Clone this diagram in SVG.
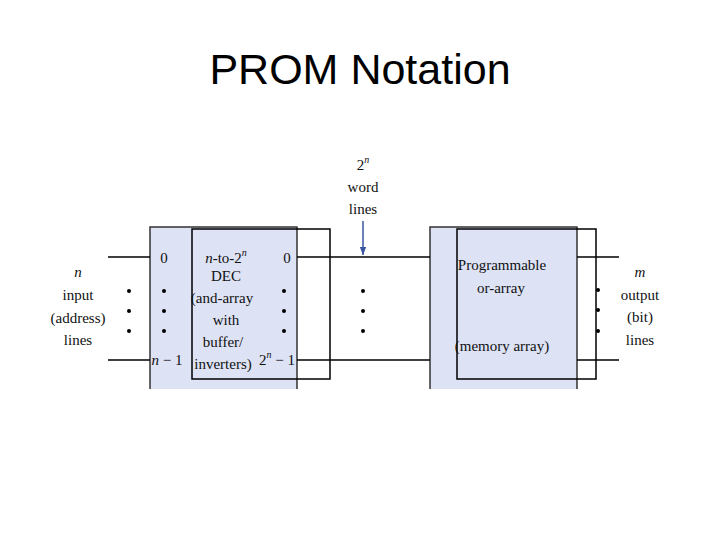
<svg xmlns="http://www.w3.org/2000/svg" width="720" height="540" viewBox="0 0 720 540">
<style>
.t{font-family:"Liberation Serif",serif;font-size:15px;fill:#111;text-anchor:middle}
.i{font-style:italic}
.title{font-family:"Liberation Sans",Arial,sans-serif;font-size:43px;fill:#000;text-anchor:middle}
.box{fill:#dde2f5;stroke:none}
.edge{stroke:#333;stroke-width:1.5;fill:none}
.in{stroke:#000;stroke-width:1.5;fill:none}
.ln{stroke:#000;stroke-width:1.5}
.d{fill:#000}
</style>
<defs>
<marker id="ah" markerWidth="8" markerHeight="10" refX="10" refY="4" orient="auto" markerUnits="userSpaceOnUse" viewBox="0 0 10 8">
<path d="M0,0 L10,4 L0,8 Z" fill="#3a55a0"/>
</marker>
</defs>
<rect width="720" height="540" fill="#fff"/>
<text class="title" x="360" y="84">PROM Notation</text>

<g id="decoder">
<rect class="box" x="150" y="227" width="147" height="162"/>
<path class="edge" d="M150,389 V227 H297 V389"/>
<rect class="in" x="192" y="229" width="138" height="150"/>
<text class="t" x="164" y="263">0</text>
<text class="t" x="167" y="365"><tspan class="i">n</tspan> − 1</text>
<text class="t" x="287" y="263">0</text>
<text class="t" x="277" y="365">2<tspan font-size="10" dy="-7" class="i">n</tspan><tspan dy="7"> − 1</tspan></text>
<text class="t" x="226" y="263"><tspan class="i">n</tspan>-to-2<tspan font-size="10" dy="-7" class="i">n</tspan></text>
<text class="t" x="226" y="281">DEC</text>
<text class="t" x="222" y="303">(and-array</text>
<text class="t" x="226" y="325">with</text>
<text class="t" x="223" y="347">buffer/</text>
<text class="t" x="223" y="369">inverters)</text>
<circle class="d" cx="164" cy="291" r="2"/><circle class="d" cx="164" cy="311" r="2"/><circle class="d" cx="164" cy="331" r="2"/>
<circle class="d" cx="284" cy="291" r="2"/><circle class="d" cx="284" cy="311" r="2"/><circle class="d" cx="284" cy="331" r="2"/>
</g>

<g id="orarray">
<rect class="box" x="430" y="227" width="147" height="162"/>
<path class="edge" d="M430,389 V227 H577 V389"/>
<rect class="in" x="457" y="229" width="139" height="150"/>
<text class="t" x="502" y="270">Programmable</text>
<text class="t" x="501" y="293">or-array</text>
<text class="t" x="502" y="351">(memory array)</text>
</g>

<g id="inputs">
<text class="t i" x="78" y="277">n</text>
<text class="t" x="78" y="300">input</text>
<text class="t" x="78" y="323">(address)</text>
<text class="t" x="78" y="345">lines</text>
<circle class="d" cx="129" cy="291" r="2"/><circle class="d" cx="129" cy="311" r="2"/><circle class="d" cx="129" cy="331" r="2"/>
</g>

<g id="wordlines">
<text class="t" x="363" y="170">2<tspan font-size="10" dy="-7" class="i">n</tspan></text>
<text class="t" x="363" y="192">word</text>
<text class="t" x="363" y="214">lines</text>
<circle class="d" cx="363" cy="291" r="2"/><circle class="d" cx="363" cy="311" r="2"/><circle class="d" cx="363" cy="331" r="2"/>
</g>

<g id="outputs">
<text class="t i" x="640" y="277">m</text>
<text class="t" x="640" y="300">output</text>
<text class="t" x="640" y="322">(bit)</text>
<text class="t" x="640" y="345">lines</text>
<circle class="d" cx="598" cy="290" r="2"/><circle class="d" cx="598" cy="310" r="2"/><circle class="d" cx="598" cy="331" r="2"/>
</g>

<g id="connectors">
<line class="ln" x1="108" y1="257" x2="150" y2="257"/>
<line class="ln" x1="108" y1="360" x2="150" y2="360"/>
<line class="ln" x1="297" y1="257" x2="430" y2="257"/>
<line class="ln" x1="297" y1="360" x2="430" y2="360"/>
<line class="ln" x1="577" y1="257" x2="619" y2="257"/>
<line class="ln" x1="577" y1="360" x2="619" y2="360"/>
<line x1="363" y1="221" x2="363" y2="255" stroke="#3a55a0" stroke-width="1.5" marker-end="url(#ah)"/>
</g>
</svg>
